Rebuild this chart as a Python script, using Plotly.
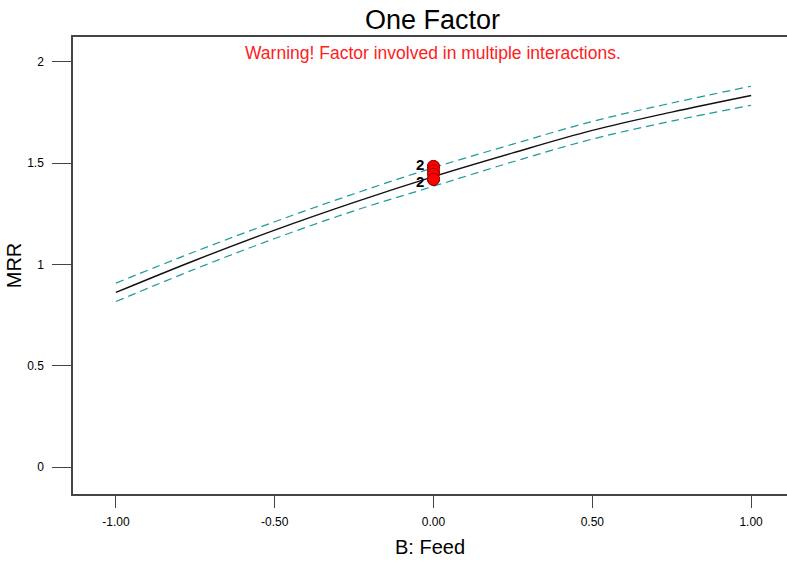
import plotly.graph_objects as go

# One-factor effect plot: predicted MRR vs coded feed with 95% band
feed = [-1.00, -0.75, -0.50, -0.25, 0.00, 0.25, 0.50, 0.75, 1.00]
mrr_pred = [0.862, 1.021, 1.170, 1.307, 1.434, 1.551, 1.662, 1.752, 1.834]
mrr_upper = [0.908, 1.064, 1.211, 1.349, 1.478, 1.594, 1.706, 1.797, 1.880]
mrr_lower = [0.817, 0.978, 1.128, 1.265, 1.386, 1.507, 1.619, 1.708, 1.786]

# Observed design points (centre runs)
obs_feed = [0.0, 0.0, 0.0, 0.0, 0.0, 0.0]
obs_mrr = [1.484, 1.484, 1.462, 1.446, 1.420, 1.420]

x_ticks = [-1.0, -0.5, 0.0, 0.5, 1.0]
x_ticktext = [f"{v:.2f}" for v in x_ticks]
y_ticks = [0, 0.5, 1, 1.5, 2]

FONT = "Arial, Liberation Sans, sans-serif"
BAND = "#1E9A9A"

fig = go.Figure()
for band in (mrr_upper, mrr_lower):
    fig.add_trace(go.Scatter(
        x=feed, y=band, mode="lines", line_shape="spline",
        line=dict(color=BAND, width=1.2, dash="8px,5px"),
        hoverinfo="skip", showlegend=False))
fig.add_trace(go.Scatter(
    x=feed, y=mrr_pred, mode="lines", line_shape="spline",
    line=dict(color="#111111", width=1.4), showlegend=False))
fig.add_trace(go.Scatter(
    x=obs_feed, y=obs_mrr, mode="markers",
    marker=dict(size=12, color="#FF0000", line=dict(color="#9A0000", width=1)),
    showlegend=False))

# Replicate counts beside repeated observations
counts = {}
for xv, yv in zip(obs_feed, obs_mrr):
    counts[(xv, yv)] = counts.get((xv, yv), 0) + 1
top = max(obs_mrr)
for (xv, yv), n in counts.items():
    if n > 1:
        fig.add_annotation(x=xv, y=yv, text=f"<b>{n}</b>", showarrow=False,
                           xanchor="right", xshift=-7,
                           yshift=2 if yv == top else -2,
                           font=dict(family=FONT, size=15, color="#000000"))

fig.add_annotation(text="One Factor", xref="paper", yref="paper",
                   x=0.5042, y=1.0, yanchor="bottom", yshift=0, showarrow=False,
                   font=dict(family=FONT, size=27, color="#000000"))
fig.add_annotation(text="Warning! Factor involved in multiple interactions.",
                   xref="paper", yref="paper", x=0.5042, y=1.0, yanchor="top",
                   yshift=-4, showarrow=False,
                   font=dict(family=FONT, size=17.5, color="#FF2020"))

fig.update_layout(
    width=787, height=563,
    margin=dict(l=73, r=0, t=37, b=69),
    paper_bgcolor="white", plot_bgcolor="white",
    font=dict(family=FONT, color="#000000"),
    xaxis=dict(
        range=[-1.135, 1.113], tickvals=x_ticks, ticktext=x_ticktext,
        showgrid=False, zeroline=False,
        showline=True, mirror=True, linecolor="#444444", linewidth=1.5,
        ticks="outside", ticklen=12, tickcolor="#444444", tickwidth=1.3,
        ticklabelstandoff=4,
        tickfont=dict(family=FONT, size=12, color="#000000"),
        title=dict(text="B: Feed", standoff=12,
                   font=dict(family=FONT, size=20, color="#000000"))),
    yaxis=dict(
        range=[-0.133, 2.123], tickvals=y_ticks,
        showgrid=False, zeroline=False,
        showline=True, linecolor="#444444", linewidth=1.5,
        ticks="outside", ticklen=19, tickcolor="#444444", tickwidth=1.3,
        ticklabelstandoff=6,
        tickfont=dict(family=FONT, size=12, color="#000000"),
        title=dict(text="MRR", standoff=0,
                   font=dict(family=FONT, size=20, color="#000000"))),
)

fig.write_html("out.html")
